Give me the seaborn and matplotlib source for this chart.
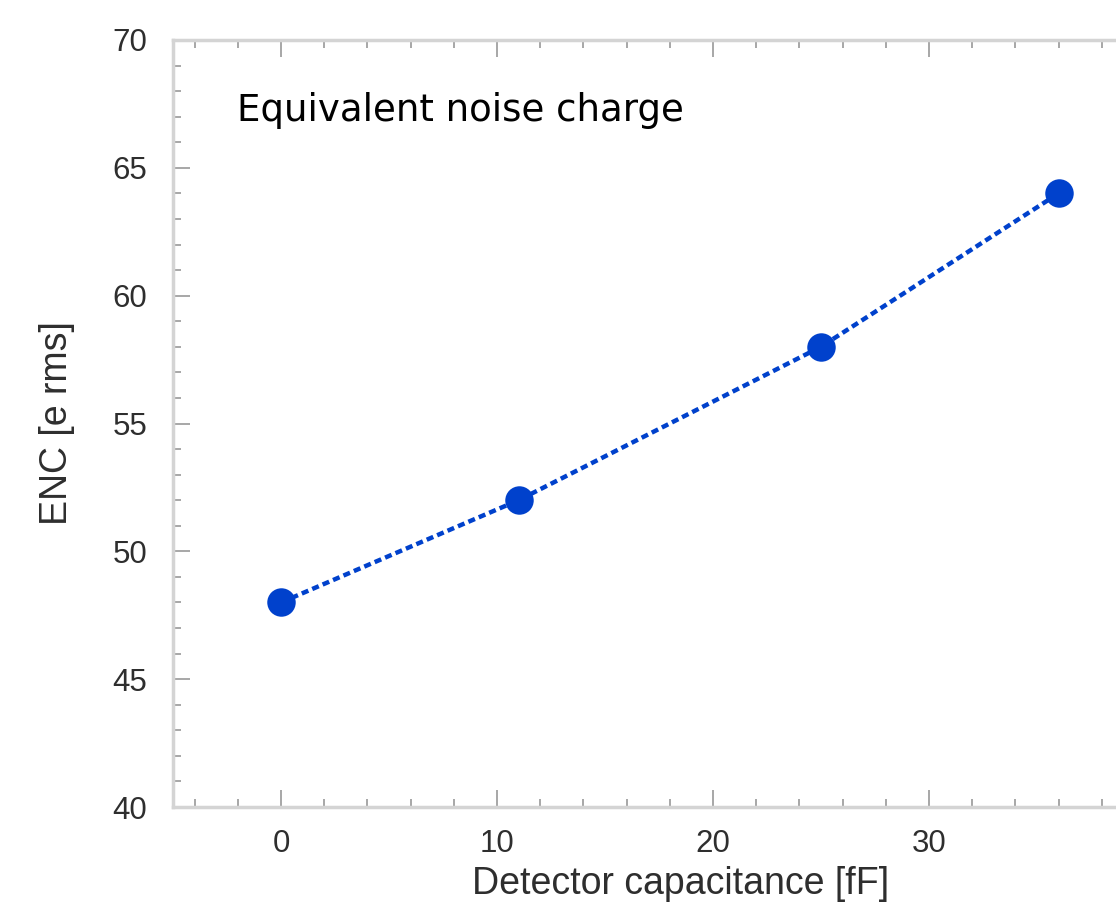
import matplotlib
matplotlib.use("Agg")
import matplotlib.pyplot as plt
from matplotlib.ticker import MultipleLocator
import seaborn as sns
import pandas as pd

# Measured ENC versus detector capacitance
capacitance_fF = [0, 11, 25, 36]
enc_e_rms = [48, 52, 58, 64]

df = pd.DataFrame({"cap": capacitance_fF, "enc": enc_e_rms})

sns.set_theme(style="white")
plt.rcParams["font.family"] = ["Liberation Sans", "DejaVu Sans"]

fig = plt.figure(figsize=(11.16, 9.05), dpi=100)
ax = fig.add_axes([173 / 1116, 98 / 905, (1116 - 173) / 1116, 767 / 905])

blue = "#0041cc"
sns.lineplot(data=df, x="cap", y="enc", ax=ax, color=blue, linewidth=3.2,
             marker="o", markersize=20.5, markeredgewidth=0,
             markerfacecolor=blue, linestyle=(0, (1.6, 0.95)))
for ln in ax.lines:
    ln.set_dash_capstyle("butt")

ax.set_xlim(-5, 38.66)
ax.set_ylim(40, 70)
ax.xaxis.set_major_locator(MultipleLocator(10))
ax.xaxis.set_minor_locator(MultipleLocator(2))
ax.yaxis.set_major_locator(MultipleLocator(5))
ax.yaxis.set_minor_locator(MultipleLocator(1))

spine_col = "#d4d4d4"
for side in ["left", "bottom", "top"]:
    ax.spines[side].set_color(spine_col)
    ax.spines[side].set_linewidth(2.5)
ax.spines["right"].set_visible(False)

ax.tick_params(which="both", direction="in", top=True, bottom=True,
               left=True, right=False, color="#a0a0a0", width=1.3)
ax.tick_params(which="major", length=12, labelsize=22.5, labelcolor="#2e2e2e")
ax.tick_params(axis="y", which="major", pad=18.5)
ax.tick_params(axis="x", which="major", pad=16)
ax.tick_params(which="minor", length=6)
ax.tick_params(axis="x", labeltop=False)

ax.set_xlabel("Detector capacitance [fF]", fontsize=27, color="#2e2e2e", labelpad=5)
ax.xaxis.label.set_x((681 - 173) / 943)
ax.set_ylabel("ENC [e rms]", fontsize=27, color="#2e2e2e", labelpad=27)

ax.text(0.0679, (807 - 121) / 767, "Equivalent noise charge",
        transform=ax.transAxes, fontsize=26.7, color="black",
        family=["DejaVu Sans"], va="baseline", ha="left")

fig.savefig("out.png", dpi=100)
